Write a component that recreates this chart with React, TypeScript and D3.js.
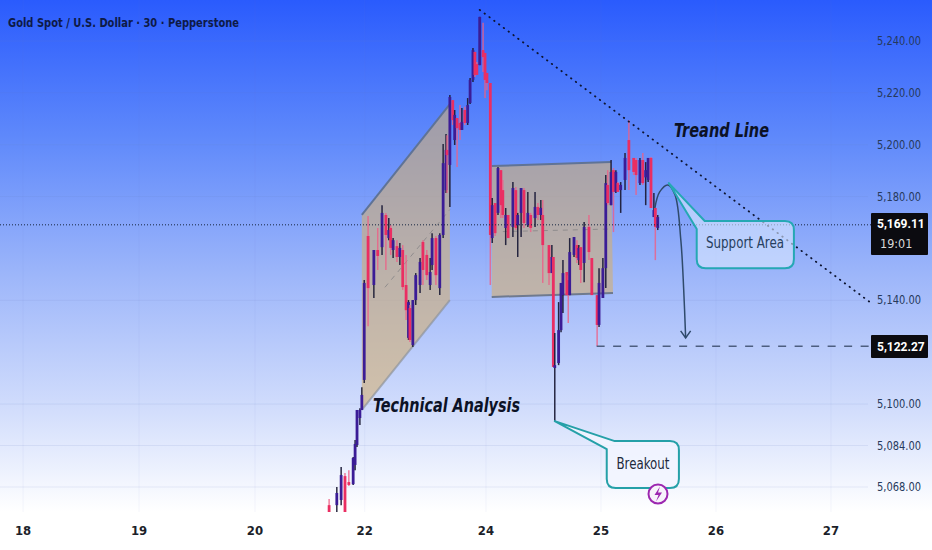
import React from "react";
import * as d3 from "d3";

// chart title and axis labels
const title = "Gold Spot / U.S. Dollar · 30 · Pepperstone";
const priceTicks = [5240, 5220, 5200, 5180, 5140, 5100, 5084, 5068];
const dayLabels = ["18", "19", "20", "22", "24", "25", "26", "27"];
const dayHours = [4.8, 28.9, 53, 75.8, 101, 124.9, 148.8, 172.7];
const lastPrice = 5169.11;
const countdown = "19:01";
const targetPrice = 5122.27;

// candles: [hour, open, high, low, close]
const rallyCandles = [
  [68.4, 5061, 5063.4, 5058.3, 5058.3], [70, 5061, 5068, 5058.3, 5065.7], [70.9, 5063, 5075.7, 5061, 5072.6],
  [71.7, 5072.2, 5073.4, 5058.3, 5058.3], [72.5, 5069.9, 5074.5, 5068.4, 5068.8], [73.4, 5069.1, 5079.6, 5068.8, 5079.2],
  [73.8, 5076.5, 5086.1, 5074.5, 5084.6], [74.2, 5084.2, 5097.7, 5083.4, 5097.7], [74.8, 5094.6, 5098.4, 5091.9, 5097.7],
  [75.2, 5097.7, 5106.5, 5097.7, 5103.5], [75.7, 5109.3, 5147.8, 5108.1, 5146.7],
];
const firstBoxCandles = [
  [76.5, 5164.8, 5172.5, 5130, 5144.7], [77.7, 5145.9, 5159.4, 5140.9, 5159.4], [78.5, 5159.4, 5167.9, 5151.7, 5157.1],
  [79.4, 5160.5, 5176.7, 5157.5, 5173.7], [80.2, 5172.9, 5173.7, 5151.7, 5165.2], [80.8, 5164, 5171.7, 5163.2, 5167.1],
  [81.2, 5167.9, 5169, 5157.5, 5160.2], [81.7, 5159.4, 5164, 5156.3, 5163.2], [82.5, 5160.9, 5163.2, 5154.8, 5156.7],
  [83.1, 5156.7, 5162.1, 5153.6, 5160.2], [83.7, 5159.4, 5161.3, 5144, 5145.1], [84.4, 5145.9, 5157.5, 5132.4, 5136.2],
  [84.9, 5125.5, 5140.1, 5124.7, 5139.3], [85.2, 5137, 5138.2, 5123.9, 5124.7], [85.8, 5122.7, 5140.1, 5122, 5140.1],
  [86.4, 5140.1, 5150.5, 5138.2, 5149.7], [87.3, 5145.9, 5156.3, 5142.8, 5154.8], [87.9, 5162.5, 5163.2, 5145.9, 5151.7],
  [88.7, 5157.5, 5159.4, 5147.8, 5149.7], [89.4, 5145.9, 5156.3, 5144, 5150.9], [89.8, 5153.6, 5165.9, 5151.7, 5164],
  [90.6, 5164, 5164.8, 5145.9, 5149.7], [91.4, 5144.7, 5165.9, 5142, 5165.2],
];
const peakCandles = [
  [92.1, 5165.2, 5200.3, 5164, 5192.9], [92.7, 5182.5, 5204.1, 5181.4, 5198], [92.9, 5198, 5203.7, 5181.4, 5196],
  [93.5, 5192.2, 5219.2, 5176, 5218.4], [94.1, 5217.2, 5217.2, 5207.6, 5209.5], [94.5, 5201.8, 5213.4, 5199.9, 5211.5],
  [95, 5210.3, 5210.3, 5191.4, 5206.4], [95.6, 5208.4, 5215.3, 5201.8, 5205.7], [96, 5205.7, 5214.2, 5205.7, 5208.8],
  [96.6, 5213.4, 5214.6, 5207.6, 5208.4], [97.2, 5208.4, 5218, 5207.6, 5215.3], [97.7, 5216.1, 5225.7, 5215.7, 5225],
  [98.3, 5225, 5237.3, 5224.2, 5236.5], [98.7, 5235.8, 5235.8, 5226.1, 5226.9], [99.1, 5231.1, 5231.9, 5226.9, 5226.9],
  [99.7, 5230.7, 5249.3, 5230.7, 5249.3], [100.4, 5236.5, 5247, 5228, 5233.8], [100.8, 5235.4, 5235.4, 5218, 5225],
  [101.2, 5227.7, 5227.7, 5221, 5223.8], [101.9, 5223.8, 5223.8, 5145.9, 5165.2],
];
const secondBoxCandles = [
  [102.3, 5164, 5179.5, 5162.1, 5176.7], [102.9, 5177.5, 5177.5, 5164.8, 5165.9], [103.5, 5173.7, 5191.4, 5172.9, 5191],
  [104.1, 5190.2, 5190.2, 5171.7, 5176.7], [104.5, 5182.5, 5186.4, 5171.7, 5172.9], [105.1, 5167.9, 5175.6, 5161.3, 5172.9],
  [105.6, 5172.9, 5172.9, 5164, 5164], [106.6, 5168.3, 5185.6, 5164.4, 5183.3], [107.2, 5182.5, 5183.7, 5167.1, 5167.9],
  [107.6, 5169, 5173.7, 5156.7, 5172.9], [108.3, 5173.7, 5183.3, 5164.4, 5183.3], [108.9, 5182.5, 5183.3, 5167.9, 5169.8],
  [109.7, 5169, 5181.8, 5168.3, 5173.7], [110.3, 5172.9, 5173.7, 5166.3, 5167.9], [111.2, 5171.7, 5181.8, 5168.3, 5176],
  [111.8, 5176, 5177.5, 5171, 5172.9], [112.4, 5172.9, 5178.7, 5171, 5175.6], [112.8, 5172.9, 5178.7, 5146.7, 5161.3],
  [114.1, 5161.3, 5161.3, 5145.9, 5150.5], [114.7, 5150.5, 5161.3, 5150.5, 5156.7], [115, 5156.7, 5156.7, 5114.3, 5114.3],
  [115.3, 5113.9, 5127.4, 5093.4, 5115], [116.1, 5115.8, 5139.3, 5115, 5128.5], [116.6, 5128.5, 5146.7, 5127.7, 5146.7],
  [117, 5142, 5155.5, 5135.1, 5150.5], [117.8, 5150.9, 5150.9, 5142, 5142], [118.1, 5147.8, 5149.7, 5131.2, 5142],
  [118.4, 5142, 5164, 5142, 5158.6], [119.3, 5157.5, 5164.4, 5156.7, 5164.4], [119.9, 5161.3, 5163.2, 5154.4, 5156.3],
  [120.3, 5155.5, 5161.3, 5153.6, 5160.2], [120.7, 5160.5, 5160.5, 5146.7, 5151.7], [121.4, 5154.4, 5170.2, 5147, 5168.3],
  [122.4, 5168.3, 5172.9, 5155.5, 5158.6], [123, 5156.3, 5156.3, 5142, 5142], [124.1, 5142, 5142, 5122.4, 5130.5],
  [124.5, 5130.5, 5152.4, 5129.7, 5146.7], [125.3, 5140.9, 5156.3, 5140.9, 5152.4],
];
const recentCandles = [
  [125.9, 5152.4, 5188.3, 5144.7, 5185.2], [126.3, 5184.5, 5190.2, 5176.7, 5177.5], [127, 5176.7, 5194.1, 5176.7, 5189.5],
  [127.5, 5190.2, 5191, 5166.3, 5181.8], [128, 5181.8, 5190.2, 5181.4, 5189.5], [128.4, 5185.2, 5185.6, 5181.8, 5181.8],
  [129, 5182.5, 5185.6, 5173.7, 5184.5], [129.9, 5186.4, 5196.8, 5182.5, 5194.9], [130.7, 5201.8, 5209.5, 5182.5, 5190.2],
  [131.7, 5194.9, 5194.9, 5188.3, 5189.5], [132.2, 5194.1, 5194.9, 5180.6, 5188.3], [133, 5185.2, 5194.9, 5184.5, 5194.1],
  [133.6, 5194.1, 5196.8, 5184.5, 5185.2], [134.2, 5187.4, 5193.3, 5176.7, 5190.2], [134.7, 5186.4, 5194.9, 5185.6, 5194.9],
  [135.3, 5194.9, 5195.3, 5175.6, 5175.6], [135.9, 5172.1, 5181.4, 5172.1, 5174.8], [136.2, 5175.6, 5175.6, 5155.5, 5168.3],
  [136.7, 5167.9, 5172.9, 5167.1, 5172.1],
];
const candles = [...rallyCandles, ...firstBoxCandles, ...peakCandles, ...secondBoxCandles, ...recentCandles];

// drawings in [hour, price]
const parallelogram = [[75.2, 5172.9], [93.5, 5215.7], [93.5, 5140.1], [75.2, 5097.7]];
const rangeBox = [[102.2, 5191.8], [127, 5193.3], [127.4, 5142.8], [102.2, 5141.3]];
const insideDiagonal = [[80, 5145], [93.5, 5175]];
const insideLevel = [[104.5, 5166.5], [127, 5167.5]];
const trendLine = [[99.7, 5252], [180.8, 5139.3]];
const targetLine = [[124, 5122.27], [180.8, 5122.27]];
const projectedPath = [[136.1, 5175.6], [137.1, 5181.8], [138.8, 5184.5], [140.3, 5180.6], [141.5, 5163.2], [142.1, 5143.9], [142.5, 5125.5]];
const supportCallout = { tip: [139, 5185.2], box: [144.8, 5170.6, 165, 5152.4], label: "Support Area" };
const breakoutCallout = { tip: [115.3, 5093.4], box: [126.1, 5085.7, 141.1, 5067.6], label: "Breakout" };

const x = d3.scaleLinear().domain([0, 193.7]).range([0, 932]);
const y = d3.scaleLinear().domain([5240, 5068]).range([41, 487]);
const line = d3.line<number[]>().x((d) => x(d[0])).y((d) => y(d[1]));
const fmt = d3.format(",.2f");
const UI = "'DejaVu Sans Condensed','DejaVu Sans',sans-serif";
const UP = "#3a1c96";
const DOWN = "#ea2f62";

function calloutPath(c: { tip: number[]; box: number[] }) {
  const [l, t, r, b] = [x(c.box[0]), y(c.box[1]), x(c.box[2]), y(c.box[3])];
  const k = 9;
  const tx = x(c.tip[0]);
  const ty = y(c.tip[1]);
  return `M${tx},${ty}L${l + 8},${t}H${r - k}Q${r},${t} ${r},${t + k}V${b - k}Q${r},${b} ${r - k},${b}H${l + k}Q${l},${b} ${l},${b - k}V${t + 8}Z`;
}

export default function App() {
  const tip = [x(142.5), y(5125.5)];
  return (
    <svg width={932} height={550} viewBox="0 0 932 550" style={{ position: "absolute", left: 0, top: 0, display: "block" }}>
      <defs>
        <linearGradient id="bg" x1="0" x2="0" y1="0" y2="1">
          <stop offset="0" stopColor="#2a5bfd" />
          <stop offset="0.25" stopColor="#5f89fb" />
          <stop offset="0.5" stopColor="#9db6fa" />
          <stop offset="0.75" stopColor="#d3defc" />
          <stop offset="0.93" stopColor="#ffffff" />
          <stop offset="1" stopColor="#ffffff" />
        </linearGradient>
        <clipPath id="pane"><rect x={0} y={0} width={932} height={512} /></clipPath>
        <filter id="soft" x="-5%" y="-5%" width="110%" height="110%"><feGaussianBlur stdDeviation="0.45" /></filter>
      </defs>
      <rect width={932} height={550} fill="url(#bg)" />

      {priceTicks.map((p) => (
        <line key={p} x1={0} x2={868} y1={y(p)} y2={y(p)} stroke="#6f86c0" strokeOpacity={0.13} />
      ))}
      {dayHours.map((h) => (
        <line key={h} x1={x(h)} x2={x(h)} y1={0} y2={512} stroke="#6f86c0" strokeOpacity={0.07} />
      ))}

      <path d={line(parallelogram as number[][]) + "Z"} fill="#d2af75" fillOpacity={0.6} />
      <path d={line(parallelogram.slice(0, 2)) ?? ""} stroke="#5f7396" strokeWidth={2} fill="none" />
      <path d={line(parallelogram.slice(2)) ?? ""} stroke="#8a9098" strokeOpacity={0.65} strokeWidth={2} fill="none" />
      <path d={line(rangeBox as number[][]) + "Z"} fill="#d2af75" fillOpacity={0.6} />
      <path d={line(rangeBox.slice(0, 2)) ?? ""} stroke="#5f7396" strokeWidth={2} fill="none" />
      <path d={line(rangeBox.slice(2)) ?? ""} stroke="#6f7a8e" strokeWidth={2} fill="none" />
      <path d={line(insideDiagonal) ?? ""} stroke="#7d7d80" strokeOpacity={0.7} strokeDasharray="5 5" fill="none" />
      <path d={line(insideLevel) ?? ""} stroke="#7d7d80" strokeOpacity={0.7} strokeDasharray="5 5" fill="none" />

      <g clipPath="url(#pane)">
        <g filter="url(#soft)">
          {candles.map(([h, o, hi, lo, c]) => {
            const up = c >= o;
            const cx = x(h);
            return (
              <g key={h}>
                <line x1={cx} x2={cx} y1={y(hi)} y2={y(lo)} stroke={up ? "#1c1c38" : "#ee5f86"} strokeOpacity={up ? 0.95 : 0.8} strokeWidth={1.5} />
                <rect x={cx - 1.4} width={2.8} y={y(Math.max(o, c))} height={Math.max(1, Math.abs(y(o) - y(c)))} fill={up ? UP : DOWN} />
              </g>
            );
          })}
        </g>
      </g>

      <line x1={0} x2={871} y1={y(lastPrice)} y2={y(lastPrice)} stroke="#16233f" strokeWidth={1} strokeDasharray="1 2" />
      <path d={line(trendLine) ?? ""} stroke="#0d1430" strokeWidth={1.8} strokeDasharray="0.5 5.5" strokeLinecap="round" fill="none" />
      <path d={line(targetLine) ?? ""} stroke="#4d5e80" strokeWidth={1.5} strokeDasharray="8 8.5" fill="none" />

      <path d={d3.line<number[]>().x((d) => x(d[0])).y((d) => y(d[1])).curve(d3.curveCatmullRom)(projectedPath) ?? ""} stroke="#2f4a6b" strokeWidth={1.5} fill="none" />
      <path d={`M${tip[0] - 5},${tip[1] - 7}L${tip[0]},${tip[1]}L${tip[0] + 5},${tip[1] - 7}`} stroke="#2f4a6b" strokeWidth={1.5} fill="none" />

      <path d={calloutPath(supportCallout)} fill="#d9e6ff" fillOpacity={0.62} stroke="#25a8b4" strokeWidth={2} strokeLinejoin="round" />
      <text x={745} y={248} textAnchor="middle" fontFamily={UI} fontSize={15} fill="#27405f" textLength={78} lengthAdjust="spacingAndGlyphs">{supportCallout.label}</text>
      <path d={calloutPath(breakoutCallout)} fill="#f2f5ff" fillOpacity={0.8} stroke="#25a0a8" strokeWidth={2} strokeLinejoin="round" />
      <text x={643} y={469} textAnchor="middle" fontFamily={UI} fontSize={15} fill="#222a3c" textLength={53} lengthAdjust="spacingAndGlyphs">{breakoutCallout.label}</text>
      <circle cx={658} cy={494} r={9.5} fill="#f7f3fb" stroke="#9c27b0" strokeWidth={2} />
      <path d="M660,486.5L654.5,495H658.5L656,501.5L662,492.5H658Z" fill="#9c27b0" />

      <text x={373} y={412} fontFamily={UI} fontStyle="italic" fontWeight={700} fontSize={20} fill="#0c1226" textLength={147} lengthAdjust="spacingAndGlyphs">Technical Analysis</text>
      <text x={674} y={137} fontFamily={UI} fontStyle="italic" fontWeight={700} fontSize={20} fill="#0c1226" textLength={95} lengthAdjust="spacingAndGlyphs">Treand Line</text>
      <text x={8} y={27} fontFamily={UI} fontWeight={700} fontSize={13} fill="#0e1a47" textLength={231} lengthAdjust="spacingAndGlyphs">{title}</text>

      {priceTicks.map((p) => (
        <text key={p} x={877} y={y(p) + 4} fontFamily={UI} fontSize={12.5} fill="#26395c" textLength={44} lengthAdjust="spacingAndGlyphs">{fmt(p)}</text>
      ))}
      {dayLabels.map((d, i) => (
        <text key={d} x={x(dayHours[i])} y={535} textAnchor="middle" fontFamily={UI} fontWeight={700} fontSize={13} fill="#1c1f2a">{d}</text>
      ))}

      <rect x={871} y={213} width={57} height={42} rx={1} fill="#0b0b10" />
      <text x={877} y={228} fontFamily="Roboto, sans-serif" fontWeight={700} fontSize={12} fill="#fff">{fmt(lastPrice)}</text>
      <text x={880} y={248} fontFamily={UI} fontSize={12.5} fill="#d8d8d8">{countdown}</text>
      <rect x={871} y={335} width={57} height={23} rx={1} fill="#0b0b10" />
      <text x={877} y={351} fontFamily="Roboto, sans-serif" fontWeight={700} fontSize={12} fill="#fff">{fmt(targetPrice)}</text>
    </svg>
  );
}
